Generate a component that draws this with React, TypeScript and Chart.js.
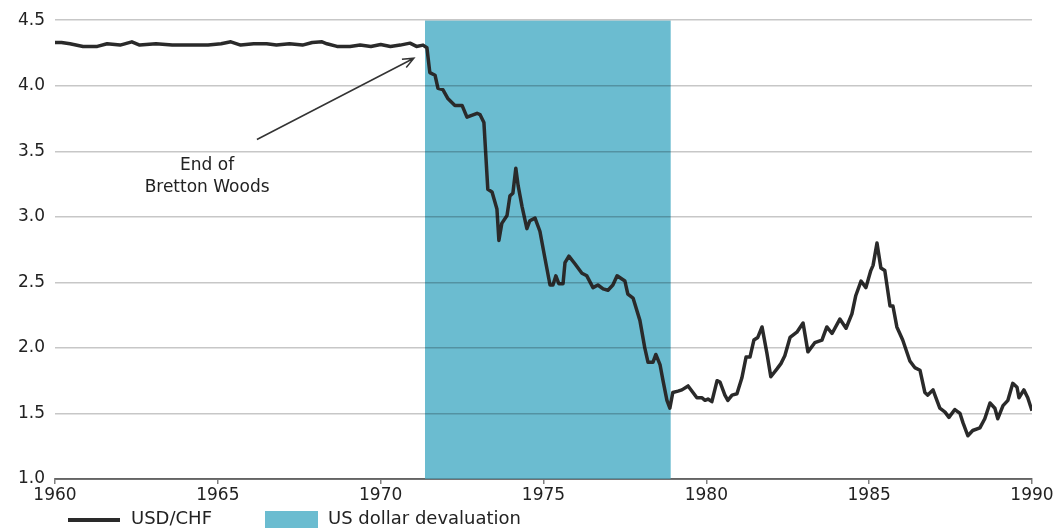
import React, { useEffect, useRef } from 'react';
import { Chart, registerables } from 'chart.js';

Chart.register(...registerables);

// ---- data ----
const YEARS = [
  1960.0, 1960.2, 1960.46, 1960.86, 1961.3, 1961.6, 1962.0, 1962.36, 1962.6, 1963.1,
  1963.6, 1964.15, 1964.7, 1965.1, 1965.4, 1965.7, 1966.1, 1966.5, 1966.8, 1967.2,
  1967.6, 1967.9, 1968.2, 1968.35, 1968.66, 1969.06, 1969.37, 1969.7, 1970.0, 1970.3,
  1970.6, 1970.9, 1971.1, 1971.3, 1971.42, 1971.51, 1971.67, 1971.76, 1971.91, 1972.07,
  1972.28, 1972.5, 1972.65, 1972.96, 1973.05, 1973.17, 1973.29, 1973.42, 1973.57, 1973.63,
  1973.72, 1973.88, 1973.97, 1974.06, 1974.15, 1974.22, 1974.34, 1974.49, 1974.58, 1974.74,
  1974.89, 1975.04, 1975.2, 1975.29, 1975.38, 1975.47, 1975.6, 1975.66, 1975.78, 1975.97,
  1976.18, 1976.33, 1976.52, 1976.67, 1976.83, 1976.98, 1977.13, 1977.26, 1977.5, 1977.59,
  1977.75, 1977.96, 1978.11, 1978.21, 1978.36, 1978.45, 1978.58, 1978.67, 1978.79, 1978.88,
  1978.97, 1979.13, 1979.25, 1979.44, 1979.59, 1979.71, 1979.86, 1979.96, 1980.05, 1980.17,
  1980.33, 1980.42, 1980.57, 1980.66, 1980.79, 1980.94, 1981.09, 1981.22, 1981.34, 1981.46,
  1981.58, 1981.71, 1981.86, 1981.98, 1982.17, 1982.29, 1982.41, 1982.57, 1982.78, 1982.97,
  1983.12, 1983.33, 1983.55, 1983.7, 1983.86, 1984.1, 1984.29, 1984.47, 1984.59, 1984.75,
  1984.9, 1985.05, 1985.12, 1985.24, 1985.36, 1985.48, 1985.64, 1985.73, 1985.85, 1986.03,
  1986.25, 1986.4, 1986.56, 1986.71, 1986.8, 1986.96, 1987.08, 1987.17, 1987.33, 1987.45,
  1987.63, 1987.79, 1987.88, 1988.03, 1988.18, 1988.4, 1988.55, 1988.71, 1988.86, 1988.95,
  1989.11, 1989.26, 1989.41, 1989.54, 1989.6, 1989.75, 1989.87, 1990.0,
];

const USD_CHF = [
  4.33, 4.33, 4.32, 4.30, 4.30, 4.32, 4.31, 4.335, 4.31, 4.32,
  4.31, 4.31, 4.31, 4.32, 4.335, 4.31, 4.32, 4.32, 4.31, 4.32,
  4.31, 4.33, 4.335, 4.32, 4.30, 4.30, 4.31, 4.30, 4.315, 4.30,
  4.31, 4.325, 4.30, 4.31, 4.29, 4.10, 4.08, 3.98, 3.97, 3.90,
  3.85, 3.85, 3.76, 3.79, 3.78, 3.72, 3.21, 3.19, 3.06, 2.82,
  2.95, 3.01, 3.16, 3.18, 3.37, 3.24, 3.08, 2.91, 2.97, 2.99,
  2.89, 2.69, 2.48, 2.48, 2.55, 2.49, 2.49, 2.65, 2.70, 2.64,
  2.57, 2.55, 2.46, 2.48, 2.45, 2.44, 2.48, 2.55, 2.51, 2.41,
  2.38, 2.21, 2.00, 1.89, 1.89, 1.95, 1.87, 1.75, 1.60, 1.54,
  1.66, 1.67, 1.68, 1.71, 1.66, 1.62, 1.62, 1.60, 1.61, 1.59,
  1.75, 1.74, 1.64, 1.60, 1.64, 1.65, 1.77, 1.93, 1.93, 2.06,
  2.08, 2.16, 1.96, 1.78, 1.84, 1.88, 1.94, 2.08, 2.12, 2.19,
  1.97, 2.04, 2.06, 2.16, 2.11, 2.22, 2.15, 2.26, 2.40, 2.51,
  2.46, 2.59, 2.63, 2.80, 2.61, 2.59, 2.32, 2.32, 2.16, 2.06,
  1.90, 1.85, 1.83, 1.66, 1.64, 1.68, 1.60, 1.54, 1.51, 1.47,
  1.53, 1.50, 1.43, 1.33, 1.37, 1.39, 1.46, 1.58, 1.54, 1.46,
  1.56, 1.60, 1.73, 1.70, 1.62, 1.68, 1.62, 1.52,
];

const DEVALUATION = [1971.36, 1978.91];
const X_TICKS = [1960, 1965, 1970, 1975, 1980, 1985, 1990];
const Y_TICKS = [1.0, 1.5, 2.0, 2.5, 3.0, 3.5, 4.0, 4.5];
const LEGEND_LABELS = ['USD/CHF', 'US dollar devaluation'];
const NOTE_LINES = ['End of', 'Bretton Woods'];
const NOTE_AT = { x: 1964.67, y: [3.39, 3.22] };
const ARROW_FROM = { x: 1966.2, y: 3.59 };
const ARROW_TO = { x: 1971.02, y: 4.21 };

// ---- styles ----
const FONT = 'DejaVu Sans';
const TEAL = 'rgb(107,188,208)';
const LINE = '#2a2a2a';
const TEXT = '#222222';

const overlayPlugin = {
  id: 'overlay',
  afterDraw(chart: any) {
    const { ctx, scales } = chart;
    const xs = scales.x;
    const ys = scales.y;
    ctx.save();
    // annotation text
    ctx.fillStyle = TEXT;
    ctx.font = `17px "${FONT}"`;
    ctx.textAlign = 'center';
    ctx.textBaseline = 'middle';
    NOTE_LINES.forEach((t, i) => {
      ctx.fillText(t, xs.getPixelForValue(NOTE_AT.x), ys.getPixelForValue(NOTE_AT.y[i]));
    });
    // arrow
    const x1 = xs.getPixelForValue(ARROW_FROM.x);
    const y1 = ys.getPixelForValue(ARROW_FROM.y);
    const x2 = xs.getPixelForValue(ARROW_TO.x);
    const y2 = ys.getPixelForValue(ARROW_TO.y);
    ctx.strokeStyle = '#333';
    ctx.lineWidth = 1.5;
    ctx.beginPath();
    ctx.moveTo(x1, y1);
    ctx.lineTo(x2, y2);
    const ang = Math.atan2(y2 - y1, x2 - x1);
    const L = 12;
    ctx.moveTo(x2 - L * Math.cos(ang - 0.4), y2 - L * Math.sin(ang - 0.4));
    ctx.lineTo(x2, y2);
    ctx.lineTo(x2 - L * Math.cos(ang + 0.4), y2 - L * Math.sin(ang + 0.4));
    ctx.stroke();
    // legend
    ctx.textAlign = 'left';
    ctx.font = `18px "${FONT}"`;
    ctx.strokeStyle = LINE;
    ctx.lineWidth = 4;
    ctx.beginPath();
    ctx.moveTo(68, 520);
    ctx.lineTo(120, 520);
    ctx.stroke();
    ctx.fillStyle = TEXT;
    ctx.fillText(LEGEND_LABELS[0], 131, 519);
    ctx.fillStyle = TEAL;
    ctx.fillRect(265, 511, 53, 17);
    ctx.fillStyle = TEXT;
    ctx.fillText(LEGEND_LABELS[1], 328, 519);
    ctx.restore();
  },
};

export default function App() {
  const ref = useRef<HTMLCanvasElement | null>(null);

  useEffect(() => {
    if (!ref.current) return;
    const chart = new Chart(ref.current, {
      type: 'line',
      data: {
        datasets: [
          {
            label: LEGEND_LABELS[0],
            data: YEARS.map((x, i) => ({ x, y: USD_CHF[i] })),
            borderColor: LINE,
            borderWidth: 3.5,
            pointRadius: 0,
            tension: 0,
            borderJoinStyle: 'round',
            fill: false,
            order: 1,
          },
          {
            label: LEGEND_LABELS[1],
            data: DEVALUATION.map((x) => ({ x, y: 4.5 })),
            backgroundColor: TEAL,
            borderWidth: 0,
            pointRadius: 0,
            fill: 'start',
            order: 2,
          },
        ],
      } as any,
      options: {
        animation: false,
        responsive: false,
        devicePixelRatio: 1,
        layout: { padding: { top: 19, right: 29, left: 0, bottom: 0 } },
        plugins: { legend: { display: false }, tooltip: { enabled: false } },
        scales: {
          x: {
            type: 'linear',
            min: 1960,
            max: 1990,
            afterBuildTicks: (s: any) => {
              s.ticks = X_TICKS.map((v) => ({ value: v }));
            },
            afterFit: (s: any) => {
              s.height = 49;
            },
            ticks: {
              callback: (v: any) => String(v),
              font: { family: FONT, size: 17 },
              color: TEXT,
              padding: 1,
              maxRotation: 0,
              autoSkip: false,
            },
            grid: {
              drawOnChartArea: false,
              drawTicks: true,
              tickLength: 5,
              color: '#808080',
              lineWidth: 1.5,
            },
            border: { display: true, color: '#808080', width: 2 },
          },
          y: {
            type: 'linear',
            min: 1,
            max: 4.5,
            afterBuildTicks: (s: any) => {
              s.ticks = Y_TICKS.map((v) => ({ value: v }));
            },
            afterFit: (s: any) => {
              s.width = 55;
            },
            ticks: {
              callback: (v: any) => Number(v).toFixed(1),
              font: { family: FONT, size: 17 },
              color: TEXT,
              padding: 10,
            },
            grid: { color: 'rgba(0,0,0,0.22)', lineWidth: 1.5, drawTicks: false, z: 1 },
            border: { display: false },
          },
        },
      } as any,
      plugins: [overlayPlugin],
    });
    return () => chart.destroy();
  }, []);

  return (
    <div style={{ position: 'fixed', left: 0, top: 0, width: 1061, height: 528, background: '#fff' }}>
      <canvas ref={ref} width={1061} height={528} />
    </div>
  );
}
